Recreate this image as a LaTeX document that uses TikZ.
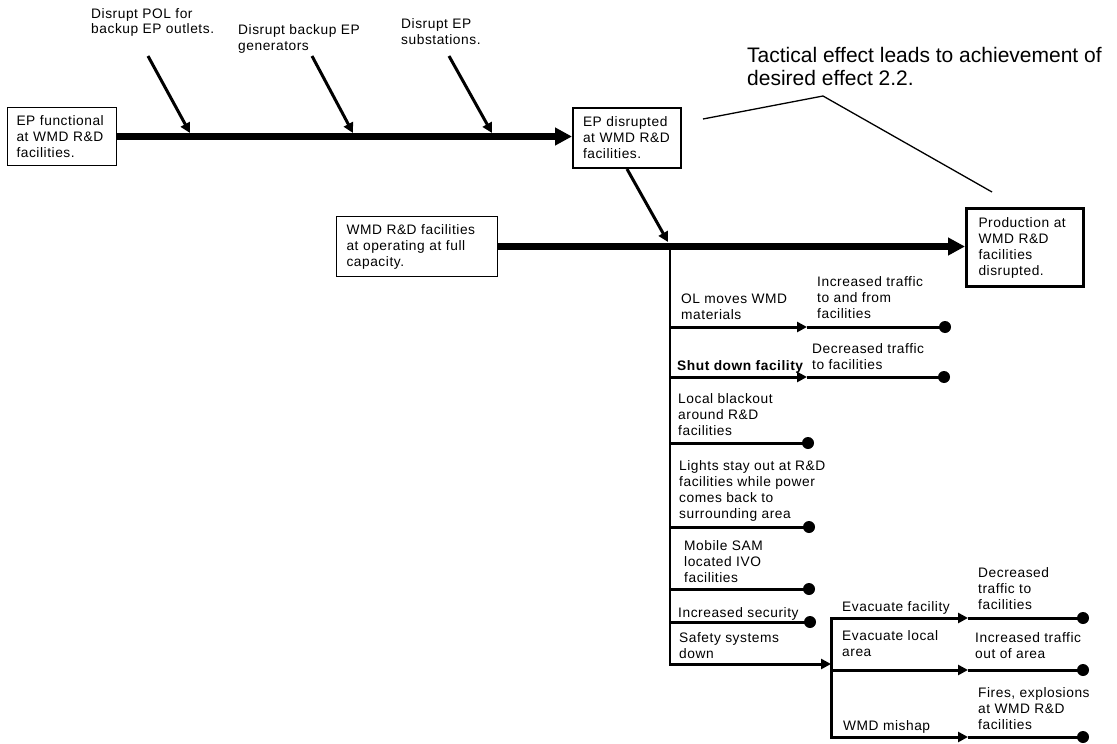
\documentclass[tikz,border=0pt]{standalone}
\usepackage{fontspec}
\newfontfamily\chartfont[LetterSpace=4]{Liberation Sans}
\newfontfamily\notefont{Liberation Sans}
\usetikzlibrary{arrows.meta,positioning}
\newcommand{\smalltxt}{\chartfont\fontsize{13.75}{16}\selectfont}
\newcommand{\bigtxt}{\notefont\fontsize{21}{23}\selectfont}

\begin{document}
\begin{tikzpicture}[x=1pt,y=-1pt,
  box/.style={draw,anchor=north west,align=left,font=\smalltxt,inner ysep=0pt},
  lbl/.style={anchor=base west,align=left,inner sep=0pt,font=\smalltxt},
  trunk/.style={line width=7pt,-{Triangle[length=17pt,width=17pt]}},
  cause/.style={line width=3pt,-{Triangle[length=10pt,width=10pt]}},
  branch/.style={line width=3pt},
  dot/.style={circle,fill,inner sep=0pt,minimum size=12pt}]
\useasboundingbox (0,0) rectangle (1117,744);

% boxes on the two trunks
\node[box,line width=1pt,inner xsep=9pt,text width=91pt,minimum height=58pt] (epok) at (7,107) {EP functional\\at WMD R\&D\\facilities.};
\node[box,line width=2pt,inner xsep=10pt,text width=88pt,minimum height=60pt] (epdis) at (572,107) {EP disrupted\\at WMD R\&D\\facilities.};
\node[box,line width=1pt,inner xsep=10pt,text width=141pt,minimum height=60pt] (wmd) at (336,216) {WMD R\&D facilities\\at operating at full\\capacity.};
\node[box,line width=3pt,inner xsep=12pt,text width=93pt,minimum height=78pt] (prod) at (965,207) {Production at\\WMD R\&D\\facilities\\disrupted.};

\draw[trunk] (epok.east) -- (epok.east -| epdis.west);
\draw[trunk] (wmd.east) -- (wmd.east -| prod.west);

% causes on the upper trunk (labels sit on their last base line)
\node[lbl] (pol) at (91,34) {Disrupt POL for\\backup EP outlets.};
\node[lbl] (gen) at (238,50) {Disrupt backup EP\\generators};
\node[lbl] (sub) at (401,44) {Disrupt EP\\substations.};
\coordinate (c1) at (148,56); \coordinate (t1) at (190,133);
\coordinate (c2) at (312,56); \coordinate (t2) at (353,133);
\coordinate (c3) at (449,56); \coordinate (t3) at (492,133);
\draw[cause] (c1) -- (t1);
\draw[cause] (c2) -- (t2);
\draw[cause] (c3) -- (t3);

% EP disrupted feeds the lower trunk
\coordinate (jn) at (670,246);
\coordinate (jtip) at (668,242);
\draw[cause] (epdis.south) -- (jtip);

% note
\node[lbl,font=\bigtxt] (note) at (747,85) {Tactical effect leads to achievement of\\desired effect 2.2.};
\coordinate (k1) at (703,119); \coordinate (k2) at (823,96); \coordinate (k3) at (992,192);
\draw[line width=1.3pt] (k1) -- (k2) -- (k3);

% spine and its branches
\coordinate (sp) at (670,665.5);
\draw[line width=2pt] (jn) -- (sp);

\coordinate (s1) at (670,327); \coordinate (m1) at (807,327); \node[dot] (d1) at (945,327) {};
\coordinate (s2) at (670,377); \coordinate (m2) at (807,377); \node[dot] (d2) at (944,377) {};
\coordinate (s3) at (670,443); \node[dot] (d3) at (808,443) {};
\coordinate (s4) at (670,527); \node[dot] (d4) at (809,527) {};
\coordinate (s5) at (670,589); \node[dot] (d5) at (809,589) {};
\coordinate (s6) at (670,622); \node[dot] (d6) at (810,622) {};
\draw[cause] (s1) -- (m1); \draw[branch] (m1) -- (d1.center);
\draw[cause] (s2) -- (m2); \draw[branch] (m2) -- (d2.center);
\draw[branch] (s3) -- (d3.center);
\draw[branch] (s4) -- (d4.center);
\draw[branch] (s5) -- (d5.center);
\draw[branch] (s6) -- (d6.center);

\node[lbl] (olm) at (681,319) {OL moves WMD\\materials};
\node[lbl] (inc) at (817,318) {Increased traffic\\to and from\\facilities};
\node[lbl,font=\smalltxt\bfseries] (shut) at (677,370) {Shut down facility};
\node[lbl] (dec) at (812,369) {Decreased traffic\\to facilities};
\node[lbl] (blk) at (678,435) {Local blackout\\around R\&D\\facilities};
\node[lbl] (lts) at (679,518) {Lights stay out at R\&D\\facilities while power\\comes back to\\surrounding area};
\node[lbl] (sam) at (684,582) {Mobile SAM\\located IVO\\facilities};
\node[lbl] (sec) at (678,617) {Increased security};
\node[lbl] (saf) at (679,658) {Safety systems\\down};

% safety systems sub-branches
\coordinate (s7) at (670,664); \coordinate (m7) at (831,664);
\draw[cause] (s7) -- (m7);
\coordinate (va) at (831,618); \coordinate (vb) at (831,670); \coordinate (vc) at (831,737);
\draw[line width=3pt,line cap=rect] (va) -- (vc);
\coordinate (ma) at (968,618); \node[dot] (da) at (1083,618) {};
\coordinate (mb) at (968,670); \node[dot] (db) at (1083,670) {};
\coordinate (mc) at (968,737); \node[dot] (dc) at (1083,737) {};
\draw[cause] (va) -- (ma); \draw[branch] (ma) -- (da.center);
\draw[cause] (vb) -- (mb); \draw[branch] (mb) -- (db.center);
\draw[cause] (vc) -- (mc); \draw[branch] (mc) -- (dc.center);

\node[lbl] (evf) at (842,611) {Evacuate facility};
\node[lbl] (dtf) at (978,609) {Decreased\\traffic to\\facilities};
\node[lbl] (evl) at (842,656) {Evacuate local\\area};
\node[lbl] (ito) at (975,658) {Increased traffic\\out of area};
\node[lbl] (mis) at (843,730) {WMD mishap};
\node[lbl] (fir) at (978,729) {Fires, explosions\\at WMD R\&D\\facilities};
\end{tikzpicture}
\end{document}
